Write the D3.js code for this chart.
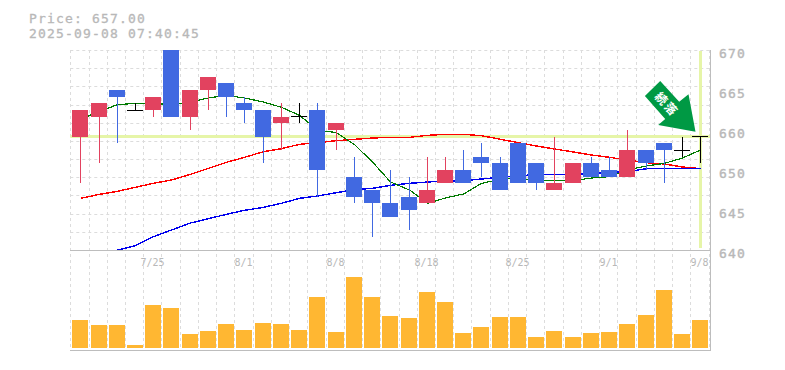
<!DOCTYPE html>
<html><head><meta charset="utf-8">
<style>html,body{margin:0;padding:0;background:#fff}svg{display:block}text{font-family:"DejaVu Sans Mono",monospace}.tx{opacity:.999}</style>
<script src="https://cdn.jsdelivr.net/npm/d3@7/dist/d3.min.js"></script>
</head><body><svg id="c" width="785" height="370"></svg>
<script>
const titleLines = ["Price: 657.00", "2025-09-08 07:40:45"];
const opens  = [657,660,664,661,661,672,660,664,665,662,661,659,660,661,658,651,649,647,648,647,650,652,654,653,656,653,649,650,653,652,651,655,656,655,657];
const highs  = [661,662,664,662,663,672,664,666,665,663,661,662,662,662,659,654,649,652,651,654,654,655,656,654,656,653,657,653,654,654,658,655,656,657,657];
const lows   = [650,653,656,661,660,660,658,661,660,659,653,655,659,648,655,647,642,645,643,647,650,650,651,649,650,649,649,650,651,651,651,652,650,654,653];
const closes = [661,662,663,661,663,660,664,666,663,661,657,660,660,652,659,648,647,645,646,649,652,650,653,649,650,650,650,653,651,651,655,653,655,655,657];
const volumes= [28,23,23,3,43,40,14,17,24,18,25,24,18,51,16,71,51,32,30,56,46,15,21,31,31,11,17,11,15,16,24,33,58,14,28];
const maShort= [659.6,660.8,661.8,662,662,661.8,662.2,662.8,663.2,662.8,662.2,661.4,660.2,658,657.6,655.8,653.2,650.2,649,647,647.8,648.4,650,650.6,650.8,650.4,650.4,650.4,650.8,651,652,652.6,653,653.8,655];
const maMid  = [647.75,648.35,648.8,649.4,650,650.5,651.35,652.25,653.15,653.9,654.75,655.2,655.85,656.1,656.4,656.6,656.8,656.9,656.9,657.2,657.35,657.35,657.15,656.6,656.1,655.6,655.15,654.7,654.25,653.9,653.5,653.1,652.9,652.45,652.2];
const maLong = [null,null,640,640.65,642,643,644.05,644.7,645.35,645.95,646.4,647,647.75,648.1,648.6,649.05,649.25,649.7,650,650.2,650.35,650.4,650.65,650.9,651.1,651.35,651.3,651.35,651.5,651.65,651.75,652.2,652.2,652.25,652.25];
const dateIdx = [4,9,14,19,24,29,34];
const dateLabels = ["7/25","8/1","8/8","8/18","8/25","9/1","9/8"];
const priceTicks = [670,664,658,652,646,640];
const priceLabels = ["670","665","660","650","645","640"];
const signalText = "続落";
const lastPrice = 657;

const RED="#e2425f", BLUE="#4169e1", ORANGE="#ffb732", GRID="#dcdcdc", AXIS="#bdbdbd", TXT="#b8b8b8", HL="#e6f5a8";
const L=70.3,R=708.5,T=50,B=250,VB=348;
const svg=d3.select("#c");
const n=closes.length;
const x=d3.scaleBand().domain(d3.range(n)).range([L,R]);
const step=x.step(), barW=16, barOff=2;
const cx=i=>Math.round(x(i)+barOff+barW/2)+0.5;
const y=d3.scaleLinear().domain([640,670]).range([B,T]);
const v=d3.scaleLinear().domain([0,98]).range([VB,B]);

svg.append("defs").append("clipPath").attr("id","pc").append("rect").attr("x",L).attr("y",T).attr("width",710-L).attr("height",B-T);

// grid
const g=svg.append("g").attr("stroke",GRID).attr("stroke-dasharray","3 3").attr("fill","none");
const hGrid=d3.range(12).map(i=>T+i*(B-T)/11);
g.selectAll(".h").data(hGrid.slice(0,11)).join("line").attr("x1",L).attr("x2",710).attr("y1",d=>Math.round(d)+.5).attr("y2",d=>Math.round(d)+.5);
g.selectAll(".v").data(d3.range(n+1)).join("line")
 .attr("x1",i=>Math.round(L+i*step)+.5).attr("x2",i=>Math.round(L+i*step)+.5).attr("y1",T).attr("y2",350);

// highlight lines
svg.append("line").attr("x1",L).attr("x2",710).attr("y1",Math.floor(y(lastPrice))+.5).attr("y2",Math.floor(y(lastPrice))+.5).attr("stroke",HL).attr("stroke-width",3);
svg.append("line").attr("x1",cx(n-1)).attr("x2",cx(n-1)).attr("y1",T+1).attr("y2",B-2).attr("stroke",HL).attr("stroke-width",3);

// axes lines
const ax=svg.append("g").attr("stroke",AXIS).attr("stroke-width",1);
ax.append("line").attr("x1",70).attr("x2",710).attr("y1",B+.5).attr("y2",B+.5);
ax.append("line").attr("x1",70).attr("x2",710).attr("y1",350.5).attr("y2",350.5);
ax.append("line").attr("x1",710.5).attr("x2",710.5).attr("y1",T).attr("y2",351);

// volume
svg.append("g").selectAll("rect").data(volumes).join("rect").attr("shape-rendering","crispEdges")
 .attr("x",(d,i)=>Math.round(x(i)+barOff)).attr("width",barW).attr("y",d=>v(d)).attr("height",d=>VB-v(d)).attr("fill",ORANGE);

// moving averages
const plot=svg.append("g").attr("clip-path","url(#pc)");
const line=d3.line().defined(d=>d!=null).x((d,i)=>cx(i)).y(d=>y(d));
const drawMa=(arr,col,w)=>plot.append("path").attr("d",line(arr)).attr("fill","none").attr("stroke",col).attr("stroke-width",w).attr("shape-rendering","crispEdges");
drawMa(maMid,"#ff0000",1.4);
drawMa(maLong,"#0000ee",1.4);
drawMa(maShort,"#007a00",1.2);

// candles
const colour=i=>closes[i]>opens[i]?RED:closes[i]<opens[i]?BLUE:"#000";
const c=plot.selectAll("g.c").data(d3.range(n)).join("g").attr("shape-rendering","crispEdges");
c.append("line").attr("x1",cx).attr("x2",cx).attr("y1",i=>y(highs[i])).attr("y2",i=>y(lows[i])).attr("stroke",colour).attr("stroke-width",1);
c.filter(i=>closes[i]!==opens[i]).append("rect").attr("x",i=>Math.round(x(i)+barOff)).attr("width",barW)
 .attr("y",i=>y(Math.max(opens[i],closes[i]))).attr("height",i=>Math.abs(y(opens[i])-y(closes[i]))).attr("fill",colour);
c.filter(i=>closes[i]===opens[i]).append("line").attr("x1",i=>Math.round(x(i)+barOff)).attr("x2",i=>Math.round(x(i)+barOff)+barW)
 .attr("y1",i=>y(closes[i])).attr("y2",i=>y(closes[i])).attr("stroke","#000").attr("stroke-width",1);

// arrow annotation, anchored to the last candle
const arrow=svg.append("g").attr("transform",`translate(${cx(n-1)-5},${y(lastPrice)-5})`);
arrow.append("path").attr("fill","#009944")
 .attr("d",d3.line()([[-35.3,-50.7],[-50.6,-35.7],[-30.3,-12.7],[-37.3,-6.7],[0,0],[-7,-37.4],[-16.3,-30]]));
arrow.append("text").attr("transform","translate(-28,-28) rotate(48)").attr("text-anchor","middle").attr("dominant-baseline","central")
 .attr("fill","#fff").attr("font-size",12).attr("font-weight","bold").attr("letter-spacing",2).style("font-family",'"Noto Sans CJK JP"').text(signalText);

// text
const tx=svg.append("g").attr("class","tx").attr("fill",TXT);
tx.selectAll(".t").data(titleLines).join("text").attr("x",29).attr("y",(d,i)=>23+i*15).attr("font-size",13).attr("letter-spacing",1.17).attr("stroke",TXT).attr("stroke-width",.3).text(d=>d);
tx.selectAll(".p").data(priceTicks).join("text").attr("x",719).attr("y",d=>y(d)+7.5).attr("font-size",13).attr("letter-spacing",1.17).attr("stroke",TXT).attr("stroke-width",.4).text((d,i)=>priceLabels[i]);
tx.selectAll(".d").data(dateIdx).join("text").attr("x",i=>cx(i)-1).attr("y",266).attr("text-anchor","middle").attr("font-size",10).text((d,i)=>dateLabels[i]);
</script></body></html>
